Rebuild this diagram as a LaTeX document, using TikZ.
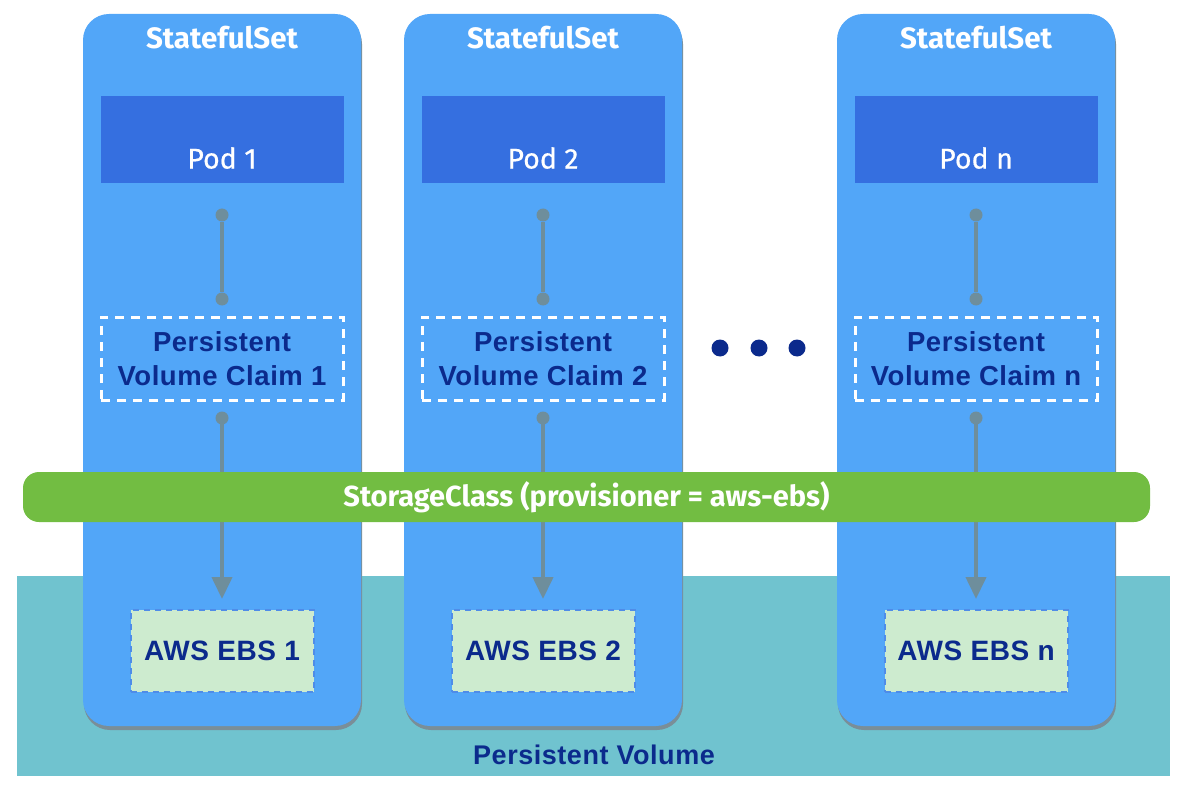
\documentclass[tikz,border=0pt]{standalone}
\usepackage{fontspec}
\setmainfont[LetterSpace=2]{Liberation Sans}
\newfontfamily\fira{Fira Sans}
\newfontfamily\firamed[FakeBold=0.5]{Fira Sans}
\usetikzlibrary{arrows.meta}
\definecolor{colfill}{HTML}{52A6F8}
\definecolor{podfill}{HTML}{356FE0}
\definecolor{conn}{HTML}{6E8E9C}
\definecolor{darktext}{HTML}{0B2A8C}
\definecolor{scgreen}{HTML}{72BD42}
\definecolor{pvteal}{HTML}{70C3CF}
\definecolor{ebsfill}{HTML}{CDEBCF}
\definecolor{ebsborder}{HTML}{4F8CE8}
\definecolor{shadowc}{HTML}{7A8E98}
\tikzset{
  colbox/.style={rectangle, rounded corners=26pt, fill=colfill, minimum width=278pt, minimum height=712pt, inner sep=0pt},
  colshadow/.style={rectangle, rounded corners=26pt, fill=shadowc, minimum width=278pt, minimum height=712pt, inner sep=0pt},
  titletext/.style={font=\fira\bfseries\fontsize{29.5}{32}\selectfont, text=white, inner sep=0pt},
  podbox/.style={rectangle, fill=podfill, minimum width=243pt, minimum height=87pt, inner sep=0pt},
  podtext/.style={font=\firamed\fontsize{28.5}{32}\selectfont, text=white, inner sep=0pt},
  dotc/.style={circle, fill=conn, minimum size=13pt, inner sep=0pt},
  link/.style={draw=conn, line width=4pt},
  arrowlink/.style={draw=conn, line width=4pt, -{Triangle[width=20pt,length=22pt]}, shorten >=10pt},
  pvcbox/.style={rectangle, draw=white, line width=3pt, dash pattern=on 9pt off 7pt, minimum width=242pt, minimum height=83pt, align=center, font=\bfseries\fontsize{27.5}{34}\selectfont, text=darktext, inner sep=0pt},
  ebsbox/.style={rectangle, draw=ebsborder, fill=ebsfill, line width=2pt, dash pattern=on 6pt off 5pt, minimum width=183pt, minimum height=82pt, font=\bfseries\fontsize{28}{30}\selectfont, text=darktext, inner sep=0pt},
  scbar/.style={rectangle, rounded corners=16pt, fill=scgreen, minimum width=1127pt, minimum height=50pt, font=\fira\bfseries\fontsize{29}{30}\selectfont, text=white, inner sep=0pt},
  bigdot/.style={circle, fill=darktext, minimum size=17pt, inner sep=0pt},
  pvtext/.style={font=\bfseries\fontsize{27}{30}\selectfont, text=darktext, inner sep=0pt}
}
\begin{document}
\begin{tikzpicture}[x=1pt,y=-1pt]
\useasboundingbox (0,0) rectangle (1185,794);
\fill[pvteal] (17,576) rectangle (1170,776);
\node[pvtext] (pvlabel) at (594,755) {Persistent Volume};

\foreach \c/\n in {222/1, 543/2, 976/n} {
  \node[colshadow] (sh\n) at (\c+1,374) {};
  \node[colbox] (set\n) at (\c,370) {};
  \node[titletext] (title\n) at (\c,38) {StatefulSet};
  \node[podbox] (pod\n) at (\c,139.5) {};
  \node[podtext] (podlab\n) at (\c,158) {Pod \n};
  \node[dotc] (da\n) at (\c,215) {};
  \node[dotc] (db\n) at (\c,299) {};
  \draw[link] (da\n) -- (db\n);
  \node[pvcbox] (pvc\n) at (\c,358.5) {Persistent\\Volume Claim \n};
  \node[dotc] (dc\n) at (\c,418) {};
  \node[ebsbox] (ebs\n) at (\c,651) {AWS EBS \n};
  \draw[arrowlink] (dc\n.center) -- (ebs\n.north);
}

\node[scbar] (sc) at (586.5,497) {StorageClass (provisioner = aws-ebs)};

\node[bigdot] (e1) at (720,348) {};
\node[bigdot] (e2) at (759,348) {};
\node[bigdot] (e3) at (797,348) {};
\end{tikzpicture}
\end{document}
